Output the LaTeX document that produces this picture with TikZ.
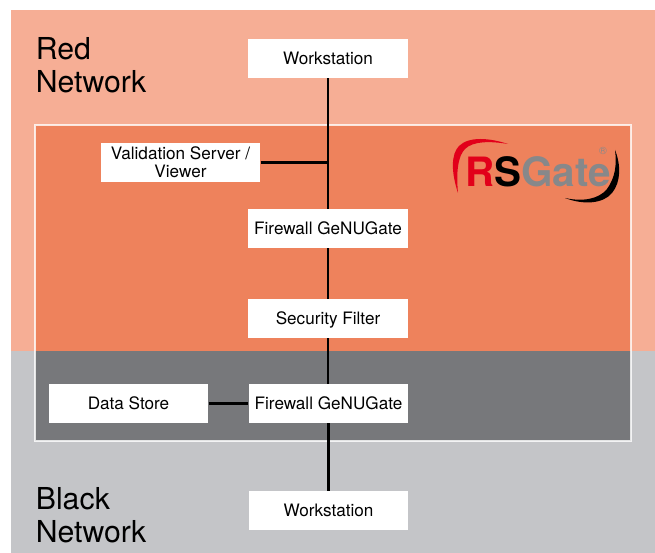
\documentclass[tikz,border=0pt]{standalone}
\usepackage{fontspec}
\setmainfont{TeX Gyre Heros}
\usepackage{tikz}
\usetikzlibrary{positioning}
\definecolor{redzone}{HTML}{F6AE95}
\definecolor{redgate}{HTML}{EE825C}
\definecolor{blackzone}{HTML}{C4C5C8}
\definecolor{blackgate}{HTML}{77787B}
\definecolor{logored}{HTML}{E2001A}
\definecolor{logogray}{HTML}{87888A}
\tikzstyle{box}     = [fill=white, minimum width=3.19cm, minimum height=0.78cm, inner sep=0pt, align=center,
                       font=\fontsize{9.75}{10.2}\selectfont]
\tikzstyle{title}   = [anchor=west, inner sep=0pt, align=left, font=\fontsize{17.2}{18.7}\selectfont]
\tikzstyle{link}    = [draw=black, line width=0.045cm]

\begin{document}
\begin{tikzpicture}[x=0.02cm, y=-0.02cm]
\useasboundingbox (0,0) rectangle (655,553);

% zones
\fill [redzone]   (11,10)  rectangle (655,351);
\fill [blackzone] (11,351) rectangle (655,553);
\fill [redgate]   (35,125) rectangle (631,351);
\fill [blackgate] (35,351) rectangle (631,441);
\draw [white, opacity=0.8, line width=0.03cm] (35,125) rectangle (631,441);

% logo
\fill [logored]   (458,193) .. controls (451,172) and (451,154) .. (459,146)
                  .. controls (469,136) and (490,138) .. (508,144)
                  .. controls (490,141) and (473,141) .. (465,149)
                  .. controls (458,156) and (456,172) .. (458,193) -- cycle;
\fill [black]     (615,150) .. controls (621,165) and (621,182) .. (612,193)
                  .. controls (603,204) and (583,205) .. (565,198)
                  .. controls (583,202) and (599,199) .. (607,189)
                  .. controls (615,178) and (617,165) .. (615,150) -- cycle;
\node [anchor=base west, inner sep=0pt, font=\fontsize{23}{23}\bfseries\selectfont] at (465,187) (logotext)
      {\textcolor{logored}{R}\textcolor{black}{S}\textcolor{logogray}{Gate}};
\node [inner sep=0pt, text=logogray, font=\fontsize{6}{6}\selectfont] at (603,150.5) (logomark) {®};

% titles
\node [title] at (35.5,65.5)  (rednet)   {Red\\Network};
\node [title] at (35.5,515.5) (blacknet) {Black\\Network};

% nodes
\node [box]                at (328,58.5)    (wstop)     {Workstation};
\node [box]                at (180.5,162.5) (validator) {Validation Server /\\Viewer};
\node [box]                at (328,228.5)   (fwtop)     {Firewall GeNUGate};
\node [box, text depth=0pt] at (328,318.5)  (filter)    {Security Filter};
\node [box]                at (328.5,403.5) (fwbottom)  {Firewall GeNUGate};
\node [box]                at (128.5,403.5) (store)     {Data Store};
\node [box]                at (328.5,510.5) (wsbottom)  {Workstation};
\coordinate (tap) at (328,162.5);

%  edges
\path [link] (wstop)     edge (fwtop)
             (validator) edge (tap)
             (fwtop)     edge (filter)
             (filter)    edge (filter |- fwbottom.north)
             (store)     edge (fwbottom)
             (fwbottom)  edge (wsbottom);

\end{tikzpicture}
\end{document}
